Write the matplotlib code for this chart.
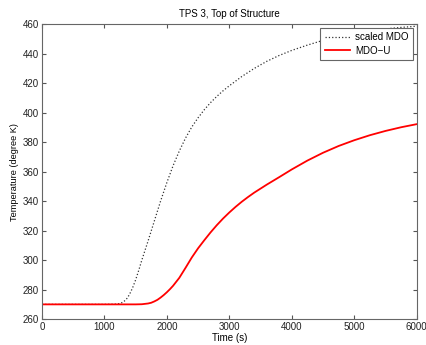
import matplotlib
matplotlib.use("Agg")
import matplotlib.pyplot as plt

plt.rcParams['font.family'] = ['Liberation Sans', 'DejaVu Sans']

# scaled MDO (dotted)
t_mdo = [0, 500, 1000, 1200, 1250, 1300, 1350, 1400, 1450, 1500, 1550, 1600,
         1650, 1700, 1800, 1900, 2000, 2100, 2200, 2300, 2400, 2500, 2600,
         2700, 2800, 2900, 3000, 3200, 3400, 3600, 3800, 4000, 4250, 4500,
         4750, 5000, 5250, 5500, 5750, 6000]
T_mdo = [270, 270, 270, 270.2, 270.6, 271.5, 273.3, 276.5, 281, 286.5, 293, 300,
         306.5, 313, 326.5, 340, 352.5, 364, 374, 382.8, 390.3, 396.5, 402,
         406.8, 411, 414.8, 418.2, 424.5, 430, 434.8, 438.8, 442.2, 445.8, 449,
         451.7, 453.8, 455.5, 456.8, 457.8, 458.6]

# MDO-U (red)
t_mdou = [0, 500, 1000, 1500, 1600, 1700, 1750, 1800, 1850, 1900, 1950, 2000,
          2050, 2100, 2200, 2300, 2400, 2500, 2600, 2700, 2800, 2900, 3000,
          3100, 3200, 3300, 3400, 3600, 3800, 4000, 4250, 4500, 4750, 5000,
          5250, 5500, 5750, 6000]
T_mdou = [270, 270, 270, 270, 270.1, 270.6, 271.1, 272, 273.1, 274.6, 276.3, 278.2,
          280.3, 282.6, 288, 294.8, 301.8, 308, 313.5, 318.8, 323.7, 328.2, 332.3,
          336.1, 339.6, 342.8, 345.8, 351.2, 356.3, 361.5, 367.5, 372.8, 377.4, 381.3,
          384.7, 387.6, 390.1, 392.2]

xticks = [0, 1000, 2000, 3000, 4000, 5000, 6000]
yticks = list(range(260, 461, 20))

fig = plt.figure(figsize=(4.27, 3.45), dpi=100)
ax = fig.add_axes([0.098, 0.075, 0.878, 0.855])

ax.plot(t_mdo, T_mdo, linestyle=':', color='#333333', linewidth=0.9, label='scaled MDO')
ax.plot(t_mdou, T_mdou, color='red', linewidth=1.3, label='MDO\u2212U')

ax.set_xlim(0, 6000)
ax.set_ylim(260, 460)
ax.set_xticks(xticks)
ax.set_yticks(yticks)
ax.tick_params(direction='in', top=True, right=True, labelsize=7, length=3,
               color='#555555', labelcolor='#222222', pad=2)
for s in ax.spines.values():
    s.set_color('#666666')
    s.set_linewidth(0.8)

ax.set_title('TPS 3, Top of Structure', fontsize=7, pad=5)
ax.set_xlabel('Time (s)', fontsize=7, labelpad=1)
ax.set_ylabel('Temperature (degree K)', fontsize=6.6, labelpad=3)

leg = ax.legend(loc='upper right', fontsize=7, fancybox=False, framealpha=1,
                edgecolor='#666666', handlelength=2.6, borderpad=0.45,
                labelspacing=0.35, borderaxespad=0.4, handletextpad=0.5)
leg.get_frame().set_linewidth(0.8)

fig.savefig('out.png', dpi=100)
